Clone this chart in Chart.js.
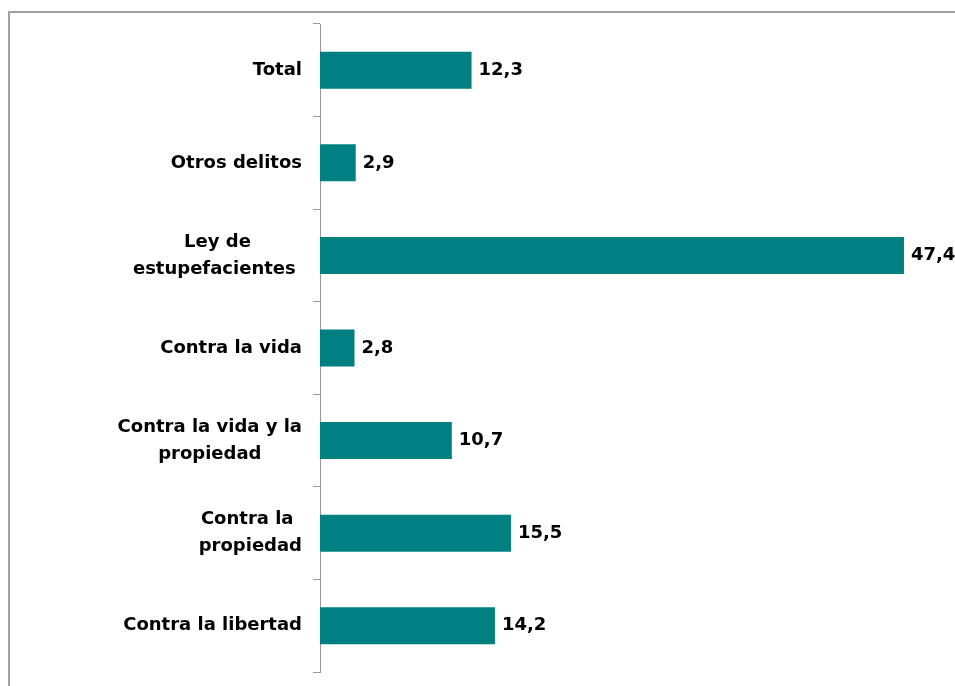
<!DOCTYPE html>
<html>
<head>
<meta charset="utf-8">
<script src="https://cdn.jsdelivr.net/npm/chart.js@4.4.0/dist/chart.umd.min.js"></script>
<style>
  html, body { margin: 0; padding: 0; background: #fff; overflow: hidden; }
  #frame { position: absolute; left: 8px; top: 11px; width: 1000px; height: 700px;
           border-left: 2px solid #a0a0a0; border-top: 2px solid #a0a0a0; }
  #wrap { position: absolute; left: 0; top: 0; width: 955px; height: 686px; }
</style>
</head>
<body>
<div id="frame"></div>
<div id="wrap"><canvas id="myChart" width="955" height="686"></canvas></div>
<script>
// categories, top to bottom
const categories = [
  ['Total'],
  ['Otros delitos'],
  ['Ley de', 'estupefacientes '],
  ['Contra la vida'],
  ['Contra la vida y la', 'propiedad'],
  ['Contra la ', 'propiedad'],
  ['Contra la libertad']
];
const values = [12.3, 2.9, 47.4, 2.8, 10.7, 15.5, 14.2];
const valueLabels = ['12,3', '2,9', '47,4', '2,8', '10,7', '15,5', '14,2'];

const FONT = 'bold 18px "DejaVu Sans"';

// draws category labels (block right aligned, lines centred) and value labels
const labelPlugin = {
  id: 'labels',
  afterDraw(chart) {
    const ctx = chart.ctx;
    const y = chart.scales.y;
    const x = chart.scales.x;
    ctx.save();
    ctx.font = FONT;
    ctx.fillStyle = '#000';
    ctx.textBaseline = 'middle';
    const lineH = 27;
    const right = 302;
    categories.forEach((lines, i) => {
      const cy = y.getPixelForValue(i);
      const w = Math.max(...lines.map(l => ctx.measureText(l).width));
      const cx = right - w / 2;
      ctx.textAlign = 'center';
      lines.forEach((l, j) => {
        ctx.fillText(l, cx, cy + (j - (lines.length - 1) / 2) * lineH);
      });
      ctx.textAlign = 'left';
      ctx.fillText(valueLabels[i], x.getPixelForValue(values[i]) + 7, cy);
    });
    ctx.restore();
  }
};

new Chart(document.getElementById('myChart'), {
  type: 'bar',
  data: {
    labels: categories.map(c => c.join(' ')),
    datasets: [{
      data: values,
      backgroundColor: '#008080',
      borderWidth: 0,
      barPercentage: 0.4,
      categoryPercentage: 1
    }]
  },
  options: {
    indexAxis: 'y',
    responsive: false,
    animation: false,
    layout: { padding: { top: 24, bottom: 14, right: 19, left: 0 } },
    plugins: { legend: { display: false }, tooltip: { enabled: false } },
    scales: {
      x: { display: false, min: 0, max: 50 },
      y: {
        afterFit(scale) { scale.width = 320; },
        ticks: { display: false },
        grid: { drawOnChartArea: false, drawTicks: true, tickLength: 7, color: '#999', offset: true },
        border: { display: true, color: '#999', width: 1 }
      }
    }
  },
  plugins: [labelPlugin]
});
</script>
</body>
</html>
